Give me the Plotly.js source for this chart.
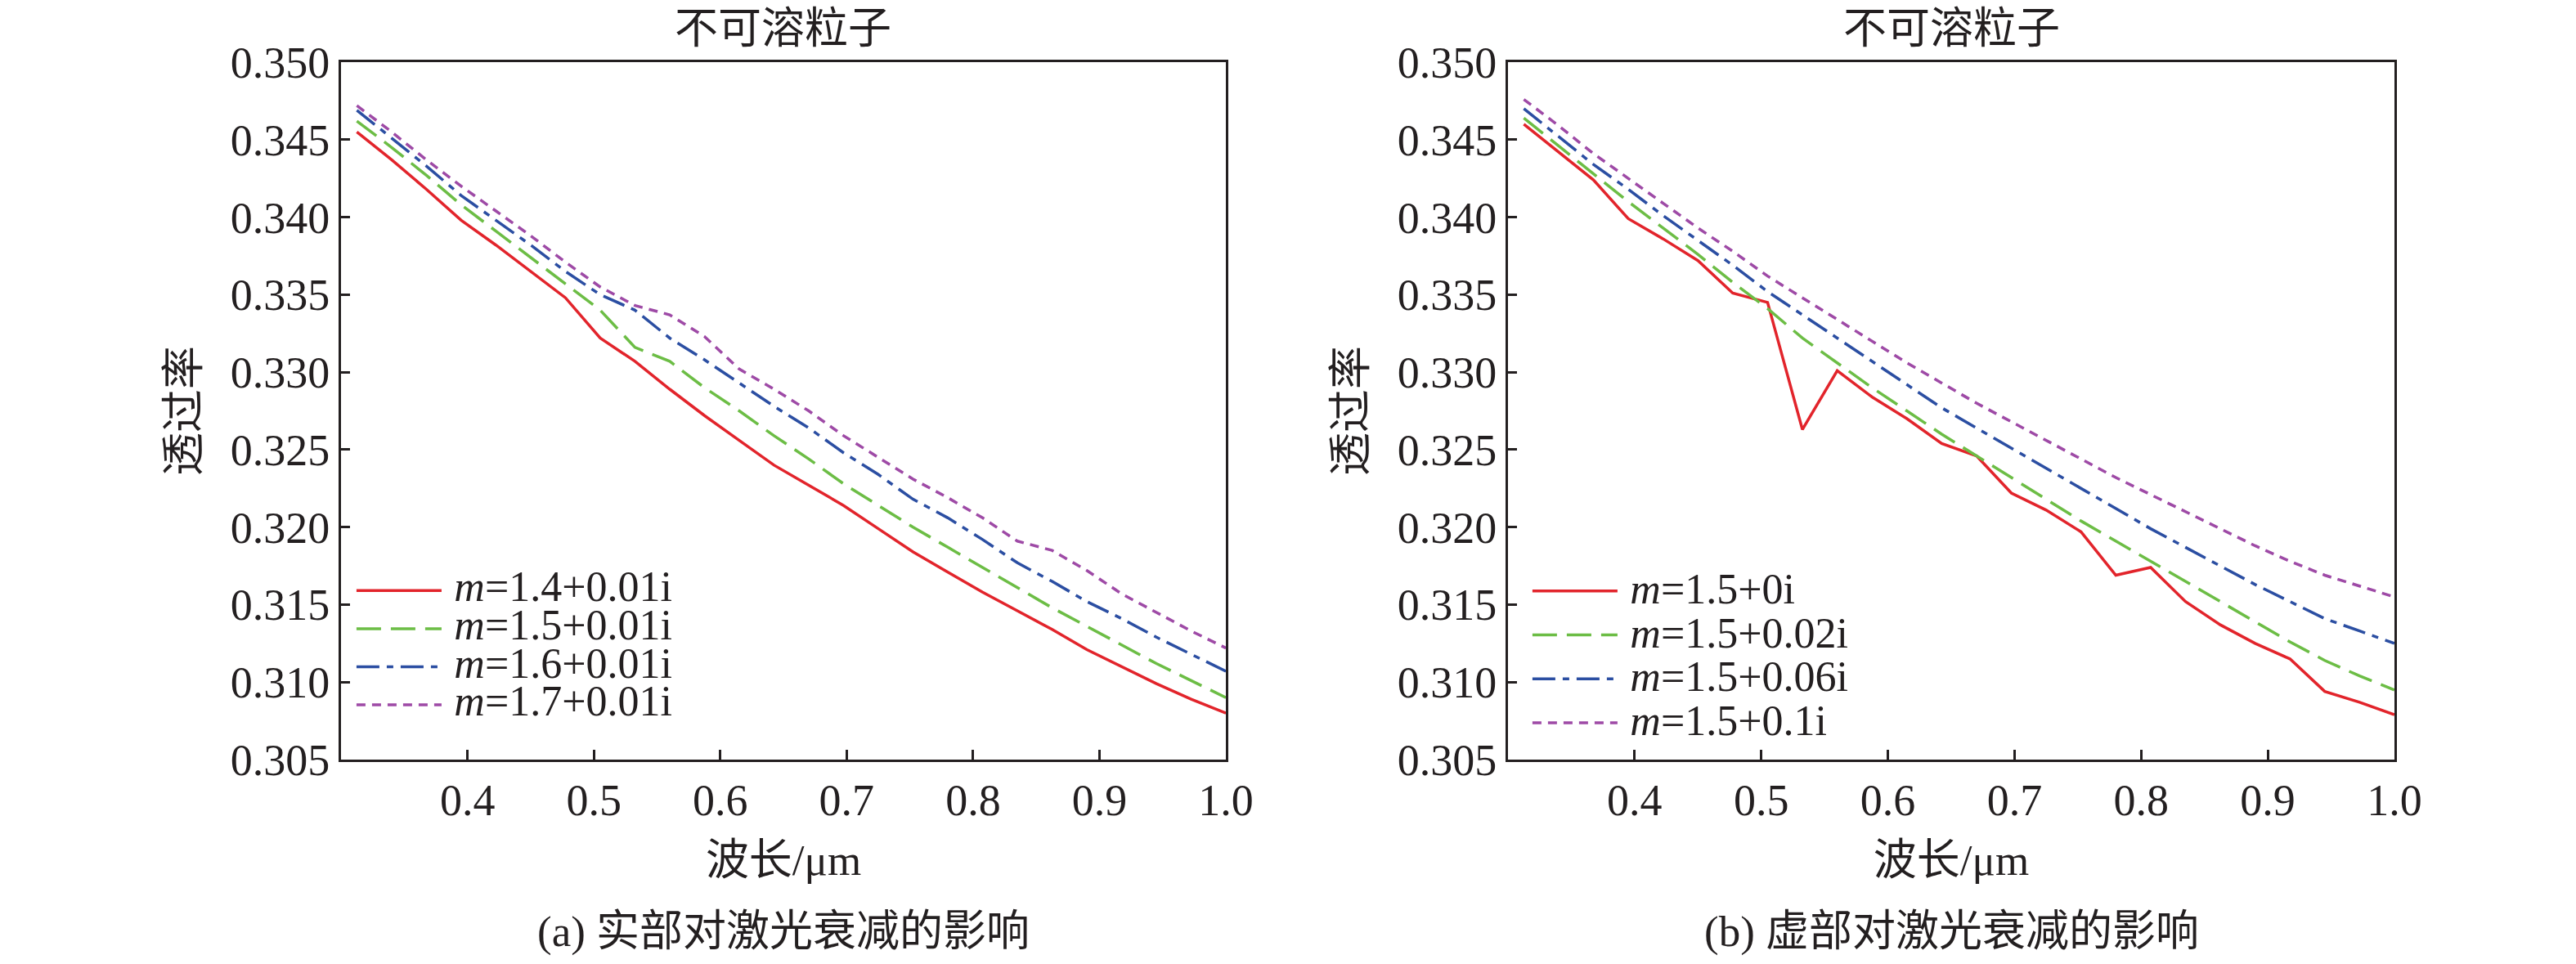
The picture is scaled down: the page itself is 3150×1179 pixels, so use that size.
<!DOCTYPE html>
<html>
<head>
<meta charset="utf-8">
<script src="https://cdn.plot.ly/plotly-3.0.1.min.js"></script>
<style>
  body { margin: 0; background: #fff; }
  #chart { width: 3150px; height: 1179px; }
</style>
</head>
<body>
<div id="chart"></div>
<script>
// wavelength grid (um), shared by every curve
const WAVELENGTH = [0.3125, 0.34, 0.3675, 0.395, 0.4225, 0.45, 0.4775, 0.505, 0.5325, 0.56,
  0.5875, 0.615, 0.6425, 0.67, 0.6975, 0.725, 0.7525, 0.78, 0.8075, 0.835,
  0.8625, 0.89, 0.9175, 0.945, 0.9725, 1.0];

// (a) real part varies, imaginary part 0.01
const REAL_14 = [0.3455, 0.3437, 0.3418, 0.3398, 0.3382, 0.3365, 0.3348, 0.3322, 0.3307, 0.3289,
  0.3272, 0.3256, 0.3240, 0.3227, 0.3214, 0.3199, 0.3184, 0.3171, 0.3158, 0.3146,
  0.3134, 0.3121, 0.3110, 0.3099, 0.3089, 0.3080];
const REAL_15 = [0.3462, 0.3445, 0.3427, 0.3408, 0.3391, 0.3374, 0.3357, 0.3340, 0.3316, 0.3307,
  0.3290, 0.3275, 0.3259, 0.3244, 0.3228, 0.3214, 0.3200, 0.3187, 0.3174, 0.3161,
  0.3148, 0.3136, 0.3124, 0.3112, 0.3101, 0.3090];
const REAL_16 = [0.3469, 0.3451, 0.3433, 0.3414, 0.3398, 0.3382, 0.3365, 0.3350, 0.3340, 0.3322,
  0.3308, 0.3293, 0.3278, 0.3264, 0.3248, 0.3234, 0.3218, 0.3206, 0.3192, 0.3177,
  0.3165, 0.3152, 0.3141, 0.3129, 0.3118, 0.3107];
const REAL_17 = [0.3472, 0.3455, 0.3437, 0.3420, 0.3404, 0.3388, 0.3371, 0.3355, 0.3343, 0.3337,
  0.3323, 0.3302, 0.3289, 0.3275, 0.3259, 0.3245, 0.3231, 0.3219, 0.3206, 0.3191,
  0.3185, 0.3172, 0.3157, 0.3145, 0.3133, 0.3122];

// (b) real part 1.5, imaginary part varies
const IMAG_0 = [0.3460, 0.3442, 0.3424, 0.3399, 0.3386, 0.3372, 0.3351, 0.3345, 0.3263, 0.3301,
  0.3284, 0.3270, 0.3254, 0.3246, 0.3222, 0.3211, 0.3197, 0.3169, 0.3174, 0.3152,
  0.3137, 0.3125, 0.3115, 0.3094, 0.3087, 0.3079];
const IMAG_002 = [0.3464, 0.3446, 0.3428, 0.3410, 0.3393, 0.3376, 0.3358, 0.3341, 0.3322, 0.3306,
  0.3290, 0.3275, 0.3260, 0.3246, 0.3232, 0.3218, 0.3204, 0.3191, 0.3178, 0.3165,
  0.3152, 0.3139, 0.3126, 0.3114, 0.3104, 0.3095];
const IMAG_006 = [0.3470, 0.3452, 0.3434, 0.3418, 0.3401, 0.3385, 0.3369, 0.3352, 0.3337, 0.3322,
  0.3307, 0.3292, 0.3277, 0.3264, 0.3251, 0.3238, 0.3225, 0.3212, 0.3199, 0.3187,
  0.3175, 0.3163, 0.3152, 0.3141, 0.3133, 0.3125];
const IMAG_01 = [0.3476, 0.3459, 0.3441, 0.3425, 0.3409, 0.3393, 0.3378, 0.3362, 0.3348, 0.3334,
  0.3320, 0.3306, 0.3293, 0.3280, 0.3268, 0.3256, 0.3244, 0.3232, 0.3221, 0.3210,
  0.3199, 0.3188, 0.3178, 0.3169, 0.3162, 0.3155];

const X_TICKS = [0.4, 0.5, 0.6, 0.7, 0.8, 0.9, 1.0];
const X_TICK_TEXT = ["0.4", "0.5", "0.6", "0.7", "0.8", "0.9", "1.0"];
const Y_TICKS = [0.305, 0.31, 0.315, 0.32, 0.325, 0.33, 0.335, 0.34, 0.345, 0.35];

const SERIF = "Liberation Serif, Times New Roman, Noto Sans CJK SC, serif";
const INK = "#231f20";

const STYLES = [
  { color: "#e2242b", dash: "solid" },
  { color: "#6cbd45", dash: "30px,12px" },
  { color: "#2b4ea2", dash: "28px,9px,8px,9px" },
  { color: "#9e4aa6", dash: "11px,8px" },
];

// the legend font sets row spacing; the span sets the glyph size
function legendName(text) {
  return `<span style="font-size:52px">\u2009<i>m</i>=${text}</span>`;
}

function curve(y, label, style, xaxis, yaxis, legend) {
  return {
    type: "scatter",
    mode: "lines",
    x: WAVELENGTH,
    y,
    name: legendName(label),
    xaxis,
    yaxis,
    legend,
    line: { color: style.color, width: 3.5, dash: style.dash },
  };
}

function xAxis(domain, anchor) {
  return {
    domain,
    anchor,
    range: [0.3, 1.0],
    tickvals: X_TICKS,
    ticktext: X_TICK_TEXT,
    ticks: "inside",
    ticklen: 12,
    tickwidth: 3,
    tickcolor: INK,
    showline: true,
    mirror: true,
    linewidth: 3,
    linecolor: INK,
    showgrid: false,
    zeroline: false,
    tickfont: { size: 54 },
    ticklabelstandoff: 0,
    title: { text: "波长/μm", font: { size: 53 }, standoff: 26 },
  };
}

function yAxis(anchor) {
  return {
    domain: [0.212, 0.9355],
    anchor,
    range: [0.305, 0.35],
    tickvals: Y_TICKS,
    tickformat: ".3f",
    ticks: "inside",
    ticklen: 11,
    tickwidth: 3,
    tickcolor: INK,
    showline: true,
    mirror: true,
    linewidth: 3,
    linecolor: INK,
    showgrid: false,
    zeroline: false,
    tickfont: { size: 54 },
    ticklabelstandoff: 0,
    title: { text: "透过率", font: { size: 53 }, standoff: 22 },
  };
}

function legendBox(x, y, spacingFont) {
  return {
    x,
    y,
    xanchor: "left",
    yanchor: "top",
    bgcolor: "rgba(0,0,0,0)",
    borderwidth: 0,
    itemwidth: 104,
    tracegroupgap: 0,
    font: { family: SERIF, size: spacingFont, color: INK },
  };
}

const traces = [
  curve(REAL_14, "1.4+0.01i", STYLES[0], "x", "y", "legend"),
  curve(REAL_15, "1.5+0.01i", STYLES[1], "x", "y", "legend"),
  curve(REAL_16, "1.6+0.01i", STYLES[2], "x", "y", "legend"),
  curve(REAL_17, "1.7+0.01i", STYLES[3], "x", "y", "legend"),
  curve(IMAG_0, "1.5+0i", STYLES[0], "x2", "y2", "legend2"),
  curve(IMAG_002, "1.5+0.02i", STYLES[1], "x2", "y2", "legend2"),
  curve(IMAG_006, "1.5+0.06i", STYLES[2], "x2", "y2", "legend2"),
  curve(IMAG_01, "1.5+0.1i", STYLES[3], "x2", "y2", "legend2"),
];

function note(text, x, y) {
  return { text, x, y, xref: "paper", yref: "paper", xanchor: "center", yanchor: "middle",
    showarrow: false, font: { size: 53 } };
}

const layout = {
  width: 3150,
  height: 1179,
  margin: { l: 0, r: 0, t: 0, b: 0 },
  paper_bgcolor: "#ffffff",
  plot_bgcolor: "#ffffff",
  font: { family: SERIF, color: INK, size: 52 },
  showlegend: true,
  xaxis: xAxis([0.1324, 0.4759], "y"),
  yaxis: yAxis("x"),
  xaxis2: xAxis([0.5854, 0.9295], "y2"),
  yaxis2: yAxis("x2"),
  legend: legendBox(0.1368, 0.4113, 33.5),
  legend2: legendBox(0.5933, 0.4139, 39),
  annotations: [
    note("不可溶粒子", 0.3041, 0.9706),
    note("不可溶粒子", 0.7575, 0.9706),
    note("(a) 实部对激光衰减的影响", 0.3041, 0.0339),
    note("(b) 虚部对激光衰减的影响", 0.7575, 0.0339),
  ],
};

Plotly.newPlot("chart", traces, layout, { displayModeBar: false, staticPlot: true });
</script>
</body>
</html>
